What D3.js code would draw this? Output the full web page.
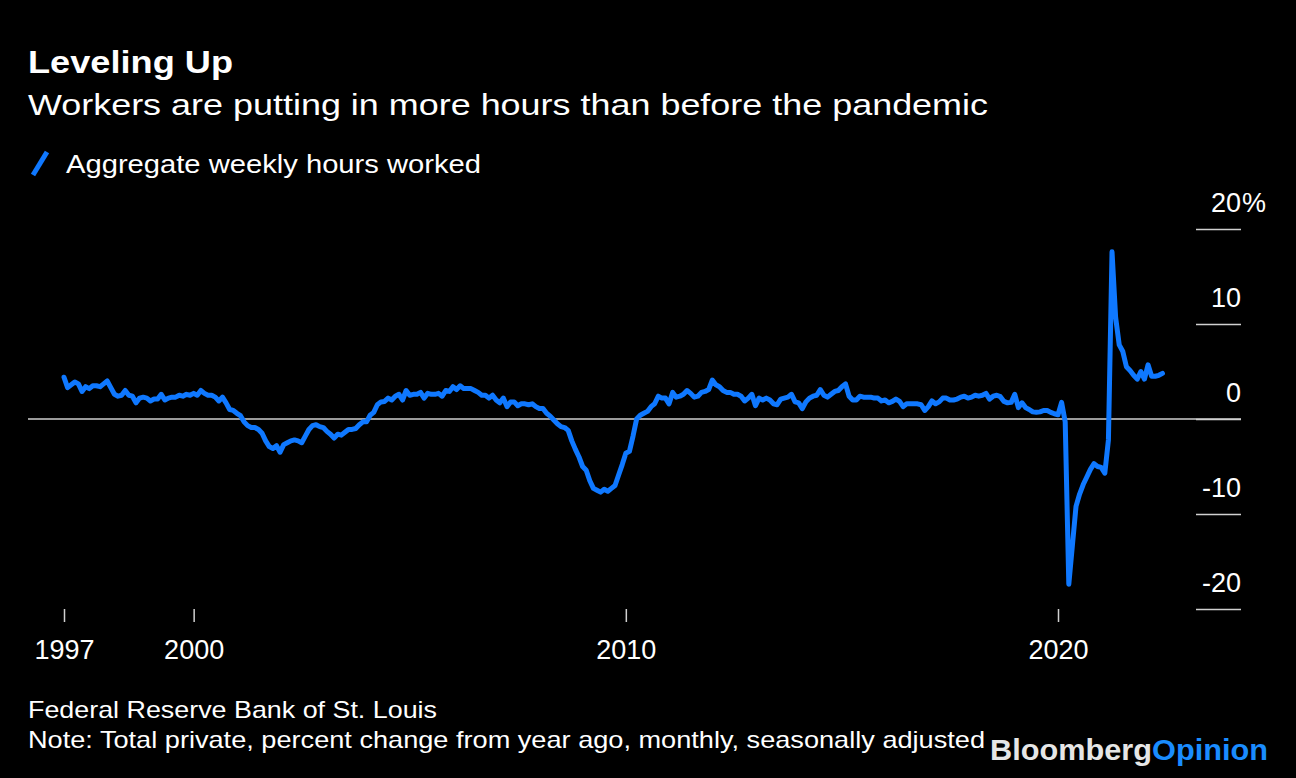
<!DOCTYPE html>
<html><head><meta charset="utf-8">
<script src="https://cdn.jsdelivr.net/npm/d3@7"></script>
<style>
html,body{margin:0;padding:0;background:#000;}
svg{display:block;font-family:"Liberation Sans",Arial,Helvetica,sans-serif;}
</style>
</head><body>
<svg id="chart" width="1296" height="778"></svg>
<script>
// ---- data (monthly, % change from year ago) ----
const startYear = 1997;          // first value = January 1997
const hoursYoY = [
  // 1997
  4.4, 3.3, 3.6, 3.9, 3.7, 2.9, 3.4, 3.2, 3.5, 3.5, 3.4, 3.7,
  // 1998
  4.0, 3.3, 2.6, 2.4, 2.5, 3.0, 2.5, 2.4, 1.7, 2.2, 2.3, 2.2,
  // 1999
  1.9, 2.1, 2.1, 2.6, 2.0, 2.2, 2.3, 2.3, 2.5, 2.4, 2.6, 2.5,
  // 2000
  2.7, 2.5, 3.0, 2.7, 2.5, 2.5, 2.3, 1.9, 2.3, 1.7, 1.0, 0.9,
  // 2001
  0.6, 0.35, -0.3, -0.7, -0.9, -0.9, -1.1, -1.5, -2.3, -2.9, -3.1, -2.8,
  // 2002
  -3.5, -2.7, -2.5, -2.3, -2.2, -2.3, -2.5, -1.8, -1.1, -0.7, -0.6, -0.8,
  // 2003
  -0.9, -1.3, -1.6, -2.0, -1.6, -1.7, -1.4, -1.1, -1.1, -1.0, -0.6, -0.3,
  // 2004
  -0.3, 0.4, 0.7, 1.5, 1.8, 1.85, 2.2, 2.0, 2.4, 2.6, 2.0, 3.0,
  // 2005
  2.5, 2.6, 2.6, 2.8, 2.2, 2.7, 2.6, 2.6, 2.7, 2.4, 3.0, 2.9,
  // 2006
  3.4, 3.1, 3.5, 3.2, 3.2, 3.2, 3.0, 2.8, 2.5, 2.5, 2.2, 2.5,
  // 2007
  2.0, 1.7, 2.2, 1.3, 1.8, 1.8, 1.4, 1.6, 1.6, 1.5, 1.6, 1.3,
  // 2008
  1.1, 1.1, 0.6, 0.3, -0.1, -0.5, -0.8, -0.9, -1.2, -2.3, -3.2, -4.0,
  // 2009
  -5.0, -5.4, -6.5, -7.3, -7.5, -7.7, -7.4, -7.6, -7.3, -7.0, -5.9, -4.8,
  // 2010
  -3.6, -3.4, -1.8, 0.0, 0.4, 0.6, 0.8, 1.3, 1.6, 2.4, 2.2, 2.2,
  // 2011
  1.6, 2.8, 2.3, 2.4, 2.6, 3.0, 2.7, 2.3, 2.4, 2.8, 2.9, 3.1,
  // 2012
  4.1, 3.6, 3.4, 3.0, 2.8, 2.8, 2.6, 2.6, 2.4, 1.9, 2.2, 2.6,
  // 2013
  1.4, 2.2, 2.0, 2.2, 2.0, 1.6, 1.5, 2.1, 2.2, 2.3, 2.6, 1.8,
  // 2014
  1.7, 1.1, 1.8, 2.2, 2.4, 2.5, 3.1, 2.5, 2.3, 2.6, 2.9, 3.0,
  // 2015
  3.4, 3.7, 2.4, 2.0, 2.0, 2.4, 2.3, 2.3, 2.3, 2.2, 2.2, 1.9,
  // 2016
  2.0, 1.7, 1.85, 2.1, 1.85, 1.3, 1.6, 1.6, 1.6, 1.6, 1.5, 0.9,
  // 2017
  1.3, 1.9, 1.6, 1.8, 2.2, 2.2, 2.0, 2.0, 2.1, 2.3, 2.4, 2.2,
  // 2018
  2.3, 2.5, 2.4, 2.5, 2.7, 2.1, 2.4, 2.5, 2.35, 1.85, 1.7, 1.75,
  // 2019
  2.6, 1.2, 1.7, 1.2, 1.0, 0.75, 0.7, 0.75, 0.9, 0.9, 0.7, 0.55,
  // 2020
  0.45, 1.75, -0.3, -17.4, -13.3, -9.2, -7.9, -6.9, -6.1, -5.3, -4.7, -5.0,
  // 2021
  -5.1, -5.7, -2.2, 17.6, 10.7, 7.8, 7.1, 5.5, 5.1, 4.6, 4.2, 5.0,
  // 2022
  4.2, 5.7, 4.5, 4.5, 4.6, 4.8
];
const xTickYears = [1997, 2000, 2010, 2020];
const yTickValues = [20, 10, 0, -10, -20];
const yTickLabels = ["20", "10", "0", "-10", "-20"];
const yUnit = "%";
const seriesName = "Aggregate weekly hours worked";
const titleText = "Leveling Up";
const subtitleText = "Workers are putting in more hours than before the pandemic";
const sourceText = "Federal Reserve Bank of St. Louis";
const noteText = "Note: Total private, percent change from year ago, monthly, seasonally adjusted";

// ---- layout ----
const W = 1296, H = 778;
const lineColor = "#0f78ff";
const svg = d3.select("#chart");
svg.append("rect").attr("width", W).attr("height", H).attr("fill", "#000");

const points = hoursYoY.map((v, i) => ({ t: startYear + i / 12, v }));

const x = d3.scaleLinear().domain([1997, 2020]).range([64, 1058]);
const y = d3.scaleLinear().domain([-20, 20]).range([609, 229]);

function fitText(sel, width) {
  sel.attr("textLength", width).attr("lengthAdjust", "spacingAndGlyphs");
}

// ---- titles ----
const title = svg.append("text").attr("x", 28).attr("y", 73)
  .attr("fill", "#fff").attr("font-weight", "bold").attr("font-size", 32).text(titleText);
fitText(title, 205);
const sub = svg.append("text").attr("x", 28).attr("y", 115)
  .attr("fill", "#fff").attr("font-size", 30).text(subtitleText);
fitText(sub, 960);

// legend
svg.append("line").attr("x1", 33).attr("y1", 175).attr("x2", 47).attr("y2", 152)
  .attr("stroke", lineColor).attr("stroke-width", 5).attr("stroke-linecap", "butt");
const leg = svg.append("text").attr("x", 66).attr("y", 173)
  .attr("fill", "#fff").attr("font-size", 25).text(seriesName);
fitText(leg, 415);

// ---- y axis (right) ----
const yFont = 27;
const yAxis = d3.axisLeft(y).tickValues(yTickValues).tickSize(45).tickFormat((d, i) => yTickLabels[i]);
const gy = svg.append("g").attr("transform", "translate(1241,0)").call(yAxis);
gy.select(".domain").remove();
gy.selectAll(".tick line").attr("stroke", "#d0d0d0").attr("stroke-width", 1.5);
gy.selectAll(".tick text").attr("x", 0).attr("y", -18).attr("dy", 0)
  .attr("text-anchor", "end").attr("fill", "#fff").attr("font-size", yFont)
  .attr("font-family", "Liberation Sans, Arial, sans-serif");
gy.selectAll(".tick").filter(d => d === yTickValues[0]).append("text")
  .attr("x", 1).attr("y", -18).attr("fill", "#fff").attr("font-size", yFont)
  .attr("text-anchor", "start").attr("font-family", "Liberation Sans, Arial, sans-serif").text(yUnit);

// zero line
svg.append("line").attr("x1", 28).attr("x2", 1241).attr("y1", y(0)).attr("y2", y(0))
  .attr("stroke", "#cfcfcf").attr("stroke-width", 1.5);

// ---- x axis ----
const xAxis = d3.axisBottom(x).tickValues(xTickYears).tickSize(13).tickFormat(d3.format("d"));
const gx = svg.append("g").attr("transform", "translate(0,609)").call(xAxis);
gx.select(".domain").remove();
gx.selectAll(".tick line").attr("stroke", "#d0d0d0").attr("stroke-width", 1.5);
gx.selectAll(".tick text").attr("y", 50).attr("dy", 0).attr("fill", "#fff")
  .attr("font-size", 27).attr("font-family", "Liberation Sans, Arial, sans-serif");

// ---- line ----
const line = d3.line().x(d => x(d.t)).y(d => y(d.v)).curve(d3.curveLinear);
svg.append("path").datum(points).attr("d", line).attr("fill", "none")
  .attr("stroke", lineColor).attr("stroke-width", 5)
  .attr("stroke-linejoin", "round").attr("stroke-linecap", "round");

// ---- footer ----
const src = svg.append("text").attr("x", 28).attr("y", 718)
  .attr("fill", "#fff").attr("font-size", 24).text(sourceText);
fitText(src, 409);
const note = svg.append("text").attr("x", 28).attr("y", 748)
  .attr("fill", "#fff").attr("font-size", 24).text(noteText);
fitText(note, 957);

const logo = svg.append("text").attr("x", 990).attr("y", 760)
  .attr("font-size", 29).attr("font-weight", "bold");
logo.append("tspan").attr("fill", "#e6e6e6").text("Bloomberg");
logo.append("tspan").attr("fill", "#1a8cff").text("Opinion");
fitText(logo, 278);
</script>
</body></html>
